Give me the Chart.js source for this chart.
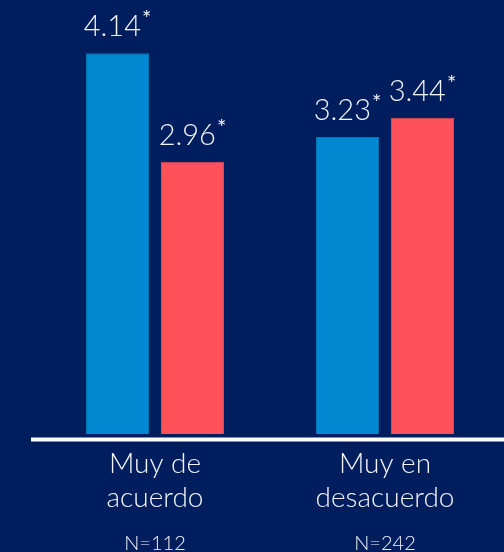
<!DOCTYPE html>
<html>
<head>
<meta charset="utf-8">
<script src="https://cdn.jsdelivr.net/npm/chart.js@4/dist/chart.umd.min.js"></script>
<style>
  html, body { margin: 0; padding: 0; background: #001e5e; }
  #wrap { width: 504px; height: 552px; position: relative; }
</style>
</head>
<body>
<div id="wrap"><canvas id="chart"></canvas></div>
<script>
const categories = [['Muy de', 'acuerdo'], ['Muy en', 'desacuerdo']];
const sampleSizes = ['N=112', 'N=242'];
const seriesA = [4.14, 3.23];   // blue
const seriesB = [2.96, 3.44];   // red
const starsA = ['*', '*'];
const starsB = ['*', '*'];

const FONT = "Lato, 'Open Sans', sans-serif";
const WHITE = '#f2f4f8';

// value label with a superscript asterisk, centered on each bar
const valueLabels = {
  id: 'valueLabels',
  afterDatasetsDraw(chart) {
    const ctx = chart.ctx;
    ctx.save();
    ctx.fillStyle = WHITE;
    ctx.textBaseline = 'alphabetic';
    ctx.textAlign = 'left';
    chart.data.datasets.forEach((ds, di) => {
      const meta = chart.getDatasetMeta(di);
      meta.data.forEach((bar, i) => {
        const txt = ds.data[i].toFixed(2);
        const star = ds.stars[i];
        ctx.font = '300 29px ' + FONT;
        const w1 = ctx.measureText(txt).width;
        ctx.font = '400 22px ' + FONT;
        const w2 = ctx.measureText(star).width;
        const x0 = bar.x - (w1 + w2 + 1) / 2;
        const y = bar.y - 17;
        ctx.font = '300 29px ' + FONT;
        ctx.fillText(txt, x0, y);
        ctx.font = '400 22px ' + FONT;
        ctx.fillText(star, x0 + w1 + 1, y - 10);
      });
    });
    ctx.restore();
  }
};

// white baseline running to the right edge
const baseline = {
  id: 'baseline',
  afterDatasetsDraw(chart) {
    const ctx = chart.ctx;
    const y = chart.scales.y.getPixelForValue(0) + 5.5;
    ctx.save();
    ctx.strokeStyle = '#ffffff';
    ctx.lineWidth = 4;
    ctx.beginPath();
    ctx.moveTo(31, y);
    ctx.lineTo(chart.width, y);
    ctx.stroke();
    ctx.restore();
  }
};

new Chart(document.getElementById('chart'), {
  type: 'bar',
  data: {
    labels: categories,
    datasets: [
      {
        data: seriesA,
        stars: starsA,
        backgroundColor: '#0088d0',
        borderColor: '#0072b8',
        borderWidth: 1,
        categoryPercentage: 0.652,
        barPercentage: 0.84
      },
      {
        data: seriesB,
        stars: starsB,
        backgroundColor: '#ff5159',
        borderColor: '#e8454f',
        borderWidth: 1,
        categoryPercentage: 0.652,
        barPercentage: 0.84
      }
    ]
  },
  options: {
    responsive: true,
    maintainAspectRatio: false,
    animation: false,
    layout: { padding: { left: 40, right: 4, top: 0, bottom: -8 } },
    plugins: {
      legend: { display: false },
      tooltip: { enabled: false }
    },
    scales: {
      x: {
        grid: { display: false, drawTicks: false },
        border: { display: false },
        ticks: {
          color: WHITE,
          padding: 14,
          maxRotation: 0,
          font: { family: FONT, size: 28, weight: '300', lineHeight: 1.18 }
        }
      },
      x2: {
        type: 'category',
        labels: sampleSizes,
        position: 'bottom',
        grid: { display: false, drawTicks: false },
        border: { display: false },
        ticks: {
          color: WHITE,
          padding: 4,
          font: { family: FONT, size: 20, weight: '300', lineHeight: 1.2 }
        }
      },
      y: {
        display: false,
        min: 0,
        max: 4.72
      }
    }
  },
  plugins: [valueLabels, baseline]
});
</script>
</body>
</html>
